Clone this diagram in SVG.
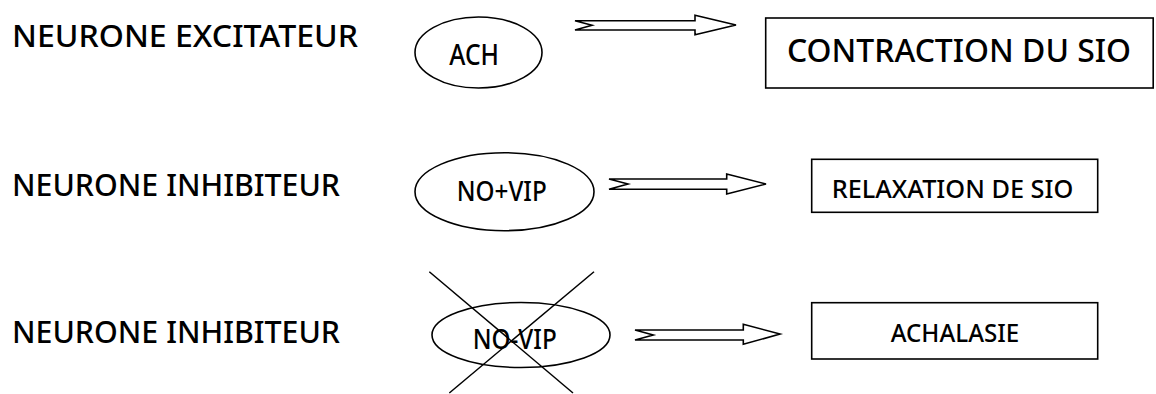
<svg xmlns="http://www.w3.org/2000/svg" width="1156" height="394" viewBox="0 0 1156 394">
<style>
text{font-family:"Noto Sans","Open Sans","Liberation Sans",sans-serif;fill:#000;font-weight:500}
.shape{fill:#fff;stroke:#000;stroke-width:1.6}
.arrow{fill:#fff;stroke:#000;stroke-width:1.6;stroke-linejoin:miter}
.cross{stroke:#000;stroke-width:1.5;fill:none}
</style>
<rect width="1156" height="394" fill="#fff"/>
<g id="label1"><text x="12" y="46.7" font-size="30" textLength="346" lengthAdjust="spacingAndGlyphs">NEURONE EXCITATEUR</text></g>
<g id="label2"><text x="12" y="195.7" font-size="30" textLength="328" lengthAdjust="spacingAndGlyphs">NEURONE INHIBITEUR</text></g>
<g id="label3"><text x="12" y="343.3" font-size="30" textLength="328" lengthAdjust="spacingAndGlyphs">NEURONE INHIBITEUR</text></g>
<g id="ach"><ellipse class="shape" cx="478.5" cy="52.5" rx="63.5" ry="35.5"/><text x="449.3" y="65" font-size="28" textLength="49.7" lengthAdjust="spacingAndGlyphs">ACH</text></g>
<g id="novip"><ellipse class="shape" cx="504.5" cy="191.7" rx="89.5" ry="39"/><text x="456.7" y="201" font-size="27" textLength="90" lengthAdjust="spacingAndGlyphs">NO+VIP</text></g>
<g id="novip-x"><ellipse class="shape" cx="521" cy="335" rx="89" ry="32.5"/><text x="472.7" y="349.3" font-size="27" textLength="84" lengthAdjust="spacingAndGlyphs">NO-VIP</text><line class="cross" x1="429.3" y1="271.7" x2="573" y2="393"/><line class="cross" x1="594" y1="271.7" x2="449.3" y2="393"/></g>
<g id="contraction"><rect class="shape" x="765.7" y="18" width="387.5" height="70"/><text x="959" y="62" font-size="33" text-anchor="middle" textLength="344" lengthAdjust="spacingAndGlyphs">CONTRACTION DU SIO</text></g>
<g id="relaxation"><rect class="shape" x="811.7" y="159.3" width="286" height="53"/><text x="831.7" y="198.3" font-size="26" textLength="241.6" lengthAdjust="spacingAndGlyphs">RELAXATION DE SIO</text></g>
<g id="achalasie"><rect class="shape" x="811.7" y="302.7" width="286" height="56.3"/><text x="890.7" y="341.7" font-size="26" textLength="128.6" lengthAdjust="spacingAndGlyphs">ACHALASIE</text></g>
<g id="connectors">
<polygon class="arrow" points="575,20.7 695,20.7 695,15.3 736,25 695,34.7 695,30 575,30 592,25.3"/>
<polygon class="arrow" points="609,179 726.7,179 726.7,174 766,184 726.7,194 726.7,189.3 609,189.3 628,184"/>
<polygon class="arrow" points="635,330 743.3,330 743.3,324.3 780,334 743.3,344.3 743.3,340 635,340 653.3,335"/>
</g>
</svg>
